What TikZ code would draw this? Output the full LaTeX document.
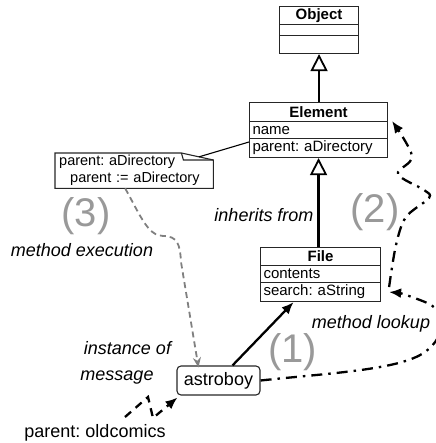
\documentclass[tikz,border=0pt]{standalone}
\usepackage{fontspec}
\setmainfont{Liberation Sans}
\usetikzlibrary{arrows.meta,calc}
\begin{document}
\frenchspacing
\begin{tikzpicture}[x=1pt,y=-1pt,
  box/.style={draw=black!85, line width=1.1pt, inner xsep=3pt, inner ysep=0pt,
    font=\fontsize{15}{15}\selectfont, anchor=north west, align=left},
  ttl/.style={box, font=\fontsize{15}{15}\selectfont\bfseries, align=center},
  inh/.style={line width=2.3pt, -{Triangle[open, length=17pt, width=17pt, line width=1.8pt, fill=white]}},
  lbl/.style={font=\fontsize{18}{18}\selectfont\itshape, inner sep=0pt},
  num/.style={font=\fontsize{40}{40}\selectfont, text=black!40, inner sep=0pt},
  solidarrow/.style={line width=2.3pt, -{Latex[length=12pt, width=10pt]}},
  dashdot/.style={line width=2.3pt, dash pattern=on 11pt off 6pt on 2.5pt off 6pt, -{Latex[length=12pt, width=10pt]}},
  greydash/.style={draw=black!50, line width=1.8pt, dash pattern=on 6pt off 4pt, -{Stealth[length=10pt, width=8pt, fill=black!50]}},
  blackdash/.style={line width=2.3pt, dash pattern=on 8pt off 6pt, -{Latex[length=12pt, width=10pt]}}
]
\useasboundingbox (0,0) rectangle (435,443);

% Object
\node[ttl, text width=73pt, minimum height=18pt] (objT) at (279,6) {Object};
\node[box, text width=73pt, minimum height=11pt] (objA) at (279,24) {};
\node[box, text width=73pt, minimum height=18pt] (objM) at (279,35) {};

% Element
\node[ttl, text width=132pt, minimum height=19pt] (elT) at (249,102) {Element};
\node[box, text width=132pt, minimum height=17pt] (elA) at (249,121) {name};
\node[box, text width=132pt, minimum height=19pt] (elM) at (249,138) {parent: aDirectory};

% File
\node[ttl, text width=114pt, minimum height=18pt] (fT) at (260,247) {File};
\node[box, text width=114pt, minimum height=17pt] (fA) at (260,265) {contents};
\node[box, text width=114pt, minimum height=19pt] (fM) at (260,282) {search: aString};

% inheritance
\draw[inh] (objM.south |- elT.north) -- (objM.south);
\draw[inh] (elM.south |- fT.north) -- (elM.south);

% astroboy
\node[draw=black!85, line width=1.1pt, rounded corners=4pt, minimum width=83pt, minimum height=29pt,
  inner sep=0pt, font=\fontsize{18}{18}\selectfont] (astro) at (218.5,380.5) {astroboy};

% note
\node[anchor=north west, minimum width=158pt, minimum height=35pt, inner xsep=4pt, inner ysep=0pt,
  text width=150pt, align=left, font=\fontsize{14.5}{17}\selectfont] (note) at (55,153)
  {parent: aDirectory\\\hspace*{11pt}parent := aDirectory};
\coordinate (fa) at ([xshift=-32pt]note.north east);
\coordinate (fb) at ([yshift=-7pt]note.north east);
\draw[black!85, line width=1.1pt] (note.north west) -- (fa) -- (fb) -- (note.south east) -- (note.south west) -- cycle;
\draw[black!85, line width=1.1pt] (fa) -- ([xshift=-30pt,yshift=-7pt]note.north east) -- (fb);
\coordinate (noteC) at ($(fa)!0.55!(fb)$);
\draw[line width=1.1pt] (noteC) -- ([yshift=-4pt]elM.north west);

% labels
\node[lbl] (inh) at (264,215) {inherits from};
\node[lbl] (mexec) at (82,250) {method execution};
\node[lbl] (mlook) at (371,324) {method lookup};
\node[lbl] (inst) at (127.5,348) {instance of};
\node[lbl] (msg) at (117,378) {message};
\node[inner sep=0pt, font=\fontsize{18}{18}\selectfont] (pold) at (95,433) {parent: oldcomics};
\node[num] (n3) at (86,216) {(3)};
\node[num] (n2) at (375,212) {(2)};
\node[num] (n1) at (292.5,352) {(1)};

% instance-of arrow
\draw[solidarrow] ([xshift=14pt]astro.north) -- ([xshift=-27pt]fM.south);

% method lookup curve
\draw[dashdot] (astro.east) .. controls (330,373) and (400,370) .. (425,352)
  .. controls (447,336) and (447,310) .. (425,302)
  .. controls (410,296) and (400,293) .. ([xshift=8pt]fM.east);

% up to Element
\coordinate (up0) at ([xshift=8pt,yshift=5pt]fM.east);
\draw[dashdot] plot[smooth, tension=0.55] coordinates {(up0) (396,245) (406,217) (429,198) (424,190) (398,174) (412,156) (392,121)};

% method execution grey dashed
\draw[greydash] ([xshift=-9pt]note.south) .. controls (140,215) and (148,236) .. (163,236)
  .. controls (178,236) and (180,245) .. (181,262) -- ([xshift=-20pt,yshift=-2pt]astro.north);

% message dashed
\coordinate (m0) at (125,417);
\coordinate (m1) at (148,397);
\coordinate (m2) at (153,418);
\draw[blackdash] (m0) -- (m1) -- (m2) -- ([xshift=1pt,yshift=-2pt]astro.south west);

\end{tikzpicture}
\end{document}
